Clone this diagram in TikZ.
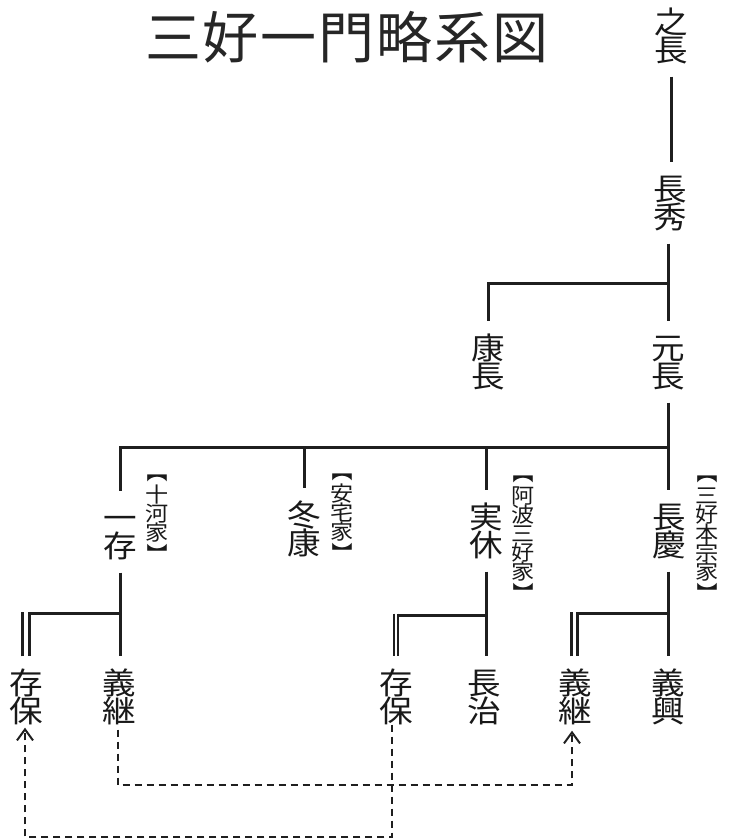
\documentclass[tikz,border=0pt]{standalone}
\usepackage{fontspec}
\usepackage{graphicx}
\newfontfamily\jp{Noto Sans CJK JP}
\newfontfamily\jpw{Noto Sans CJK JP}[FakeStretch=1.1]
\usetikzlibrary{arrows.meta}
\newcommand{\obr}{\rotatebox[origin=c]{-90}{【}\cr\noalign{\kern4pt}}
\newcommand{\cbr}{\noalign{\kern4pt}\rotatebox[origin=c]{-90}{】}}
% vertical text: rows separated by \cr, fixed pitch = height + depth
\newcommand{\vtext}[3]{\vbox{\offinterlineskip\halign{\hfil\smash{##}\hfil\vrule height #1 depth #2 width 0pt\cr #3\crcr}}}
\newcommand{\nmt}[1]{\vtext{25.35pt}{2.15pt}{#1}}
\newcommand{\lbt}[1]{\vtext{17.5pt}{1.5pt}{#1}}
\begin{document}
\begin{tikzpicture}[x=1pt,y=-1pt,
  nm/.style={font=\jpw\fontsize{30.5}{30.5}\selectfont, inner xsep=0pt, inner ysep=13pt, text=black!90},
  lbl/.style={font=\jpw\fontsize{21}{21}\selectfont, inner sep=0pt, text=black!90},
  ttl/.style={font=\jp\fontsize{56}{58}\selectfont, inner sep=0pt, text=black!85},
  ln/.style={line width=3pt, draw=black!88},
  thin/.style={line width=1.6pt, draw=black!88},
  dl/.style={line width=2pt, draw=black!88, dash pattern=on 7pt off 5pt},
  ar/.style={-{Straight Barb[length=11pt,width=16pt,line width=2pt]}}
]
\useasboundingbox[fill=white] (0,0) rectangle (732,840);

% title
\node[ttl] (title) at (347,37) {\makebox[58pt]{三}\makebox[58pt]{好}\makebox[58pt]{一}\makebox[58pt]{門}\makebox[58pt]{略}\makebox[58pt]{系}\makebox[58pt]{図}};

% level coordinates
\coordinate (b1) at (0,283);
\coordinate (b2) at (0,447);
\coordinate (b3) at (0,613);
\coordinate (b4) at (0,615);
\coordinate (d1) at (0,785);
\coordinate (d2) at (0,837);

% names
\node[nm] (yukinaga) at (671,36) {\nmt{之\cr 長}};
\node[nm] (nagahide) at (670,203) {\nmt{長\cr 秀}};
\node[nm] (yasunaga) at (488,362) {\nmt{康\cr 長}};
\node[nm] (motonaga) at (668,362) {\nmt{元\cr 長}};
\node[nm] (kazumasa) at (120,532) {\nmt{一\cr 存}};
\node[nm] (fuyuyasu) at (304,529) {\nmt{冬\cr 康}};
\node[nm] (jikkyu) at (486,531) {\nmt{実\cr 休}};
\node[nm] (nagayoshi) at (669,531) {\nmt{長\cr 慶}};
\node[nm] (nagayasuL) at (26,697) {\nmt{存\cr 保}};
\node[nm] (yoshitsuguL) at (119,697) {\nmt{義\cr 継}};
\node[nm] (nagayasuM) at (396,697) {\nmt{存\cr 保}};
\node[nm] (nagaharu) at (484,697) {\nmt{長\cr 治}};
\node[nm] (yoshitsuguR) at (575,697) {\nmt{義\cr 継}};
\node[nm] (yoshioki) at (668,697) {\nmt{義\cr 興}};

% house labels
\node[lbl] (sogo) at (157,513) {\lbt{\obr 十\cr 河\cr 家\cr \cbr}};
\node[lbl] (ataka) at (342,512) {\lbt{\obr 安\cr 宅\cr 家\cr \cbr}};
\node[lbl] (awa) at (523,533) {\lbt{\obr 阿\cr 波\cr 三\cr 好\cr 家\cr \cbr}};
\node[lbl] (honso) at (707,533) {\lbt{\obr 三\cr 好\cr 本\cr 宗\cr 家\cr \cbr}};

% solid connectors
\draw[ln] (yukinaga.south) -- (yukinaga.south |- nagahide.north);
\draw[ln] (nagahide.south -| motonaga.north) -- (motonaga.north);
\draw[ln] (motonaga.north |- b1) -| (yasunaga.north);
\draw[ln] (motonaga.south) -- (motonaga.south |- nagayoshi.north);
\draw[ln] (motonaga.north |- b2) -| (kazumasa.north);
\draw[ln] (fuyuyasu.north |- b2) -- (fuyuyasu.north);
\draw[ln] (jikkyu.north |- b2) -- (jikkyu.north);

% 一存 line
\draw[ln] (kazumasa.south) -- (kazumasa.south |- yoshitsuguL.north);
\draw[ln] (kazumasa.south |- b3) -| ([xshift=3pt]nagayasuL.north);
\draw[ln] ([xshift=-3.5pt]nagayasuL.north) -- ([xshift=-3.5pt,yshift=1.5pt]nagayasuL.north |- b3);

% 実休 line
\draw[ln] (jikkyu.south) -- (jikkyu.south |- nagaharu.north);
\draw[ln] (jikkyu.south |- b4) -- ([xshift=1.2pt]nagayasuM.north |- b4);
\draw[thin] ([xshift=2pt,yshift=1.5pt]nagayasuM.north |- b4) -- ([xshift=2pt]nagayasuM.north);
\draw[thin] ([xshift=-2pt,yshift=1.5pt]nagayasuM.north |- b4) -- ([xshift=-2pt]nagayasuM.north);

% 長慶 line
\draw[ln] (motonaga.south |- b3) -| ([xshift=2.5pt]yoshitsuguR.north);
\draw[ln] (motonaga.south |- nagayoshi.south) -- (motonaga.south |- yoshioki.north);
\draw[ln] ([xshift=-3.5pt]yoshitsuguR.north) -- ([xshift=-3.5pt,yshift=1.5pt]yoshitsuguR.north |- b3);

% adoption (dashed) links
\draw[dl, ar] ([xshift=-1pt,yshift=8pt]yoshitsuguL.south) |- ([xshift=-3pt]yoshitsuguR.south |- d1) -- ([xshift=-3pt,yshift=7pt]yoshitsuguR.south);
\draw[dl, ar] ([xshift=-4pt,yshift=13pt]nagayasuM.south) |- ([xshift=-1pt]nagayasuL.south |- d2) -- ([xshift=-1pt,yshift=10pt]nagayasuL.south);
\end{tikzpicture}
\end{document}
